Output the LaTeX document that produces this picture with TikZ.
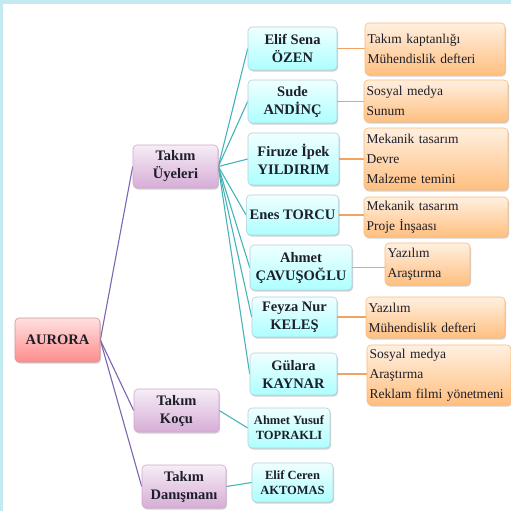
\documentclass[tikz,border=0pt]{standalone}
\usepackage{fontspec}
\setmainfont{Liberation Serif}
\usepackage{xcolor}
\definecolor{kenar}{HTML}{C3EAF0}
\definecolor{morcizgi}{HTML}{7E65B3}
\definecolor{turkuaz}{HTML}{45B4B8}
\definecolor{turuncu}{HTML}{F2A261}
\definecolor{yazi}{HTML}{1E1E2A}
\usetikzlibrary{positioning, shadows, backgrounds}

\begin{document}
\begin{tikzpicture}[x=1pt, y=-1pt,
    kutu/.style={rectangle, rounded corners=4pt, line width=0.6pt, text=yazi, align=center,
      drop shadow={shadow xshift=1pt, shadow yshift=-1.5pt, opacity=0.3, fill=black!60},
      font=\bfseries\fontsize{14.5}{18}\selectfont},
    kok/.style={kutu, draw=red!45!gray!60, top color=red!12, bottom color=red!45!white,
      minimum width=85pt, minimum height=44pt},
    grup/.style={kutu, draw=violet!35, top color=violet!7, bottom color=violet!32,
      minimum width=85pt, minimum height=43pt},
    kisi/.style={kutu, draw=cyan!40!gray!50, top color=cyan!6, bottom color=cyan!32,
      minimum width=89pt, minimum height=43pt},
    gorev/.style={kutu, draw=orange!55, top color=orange!12, bottom color=orange!50,
      align=left, inner xsep=2.5pt, text width=#1, minimum height=42pt,
      font={\fontsize{13.5}{20}\selectfont\hyphenpenalty=10000\relax}},
    ana/.style={morcizgi, line width=1.1pt},
    dal/.style={turkuaz, line width=1.1pt},
    is/.style={turuncu, line width=1.3pt}]

        \useasboundingbox (0,0) rectangle (511,511);

        % Kök
        \node[kok] (aurora) at (57.5,340) {AURORA};

        % Gruplar
        \node[grup] (uyeler) at (175.5,166.5) {Takım\\Üyeleri};
        \node[grup] (kocu) at (176.5,410.5) {Takım\\Koçu};
        \node[grup, minimum width=84pt] (danisman) at (184,486.5) {Takım\\Danışmanı};

        % Takım üyeleri
        \node[kisi] (p1) at (292.5,48.5) {Elif Sena\\ÖZEN};
        \node[kisi] (p2) at (292.5,101.5) {Sude\\ANDİNÇ};
        \node[kisi, minimum width=91pt, minimum height=52pt] (p3) at (293.5,159) {Firuze İpek\\YILDIRIM};
        \node[kisi, minimum height=40pt] (p4) at (292.5,215) {Enes TORCU};
        \node[kisi, minimum width=102pt, minimum height=45pt] (p5) at (301,267.5) {Ahmet\\ÇAVUŞOĞLU};
        \node[kisi, minimum width=85pt, minimum height=40pt] (p6) at (294.5,317) {Feyza Nur\\KELEŞ};
        \node[kisi, minimum width=87pt, minimum height=42pt] (p7) at (293.5,374) {Gülara\\KAYNAR};
        \node[kisi, minimum width=82pt, minimum height=40pt, font=\bfseries\fontsize{12.5}{15}\selectfont] (p8) at (289,428) {Ahmet Yusuf\\TOPRAKLI};
        \node[kisi, minimum width=81pt, minimum height=39pt, font=\bfseries\fontsize{12.5}{15}\selectfont] (p9) at (292.5,482.5) {Elif Ceren\\AKTOMAS};

        % Görevler
        \node[gorev=135pt, minimum height=52pt] (g1) at (435,49) {Takım kaptanlığı\\Mühendislik defteri};
        \node[gorev=139pt] (g2) at (436,101) {Sosyal medya\\Sunum};
        \node[gorev=139pt, minimum height=62pt] (g3) at (436,159) {Mekanik tasarım\\Devre\\Malzeme temini};
        \node[gorev=139pt, minimum height=40pt] (g4) at (436,217) {Mekanik tasarım\\Proje İnşaası};
        \node[gorev=80pt] (g5) at (427.5,264) {Yazılım\\Araştırma};
        \node[gorev=134pt, minimum height=41pt] (g6) at (435.5,317.5) {Yazılım\\Mühendislik defteri};
        \node[gorev=139pt, minimum height=60pt] (g7) at (439,375) {Sosyal medya\\Araştırma\\Reklam filmi yönetmeni};

        \begin{scope}[on background layer]
          % Çerçeve
          \fill[kenar] (0,0) rectangle (511,4);
          \fill[kenar] (0,0) rectangle (3,511);

          % Kökten gruplara
          \foreach \g in {uyeler, kocu, danisman}
            \draw[ana] (aurora.east) -- (\g.west);

          % Gruplardan kişilere
          \foreach \p in {p1, p2, p3, p4, p5, p6, p7}
            \draw[dal] (uyeler.east) -- (\p.west);
          \draw[dal] (kocu.east) -- (p8.west);
          \draw[dal] (danisman.east) -- (p9.west);

          % Kişilerden görevlere
          \foreach \i in {1,...,7}
            \draw[is] (p\i.east) -- (p\i.east -| g\i.west);
        \end{scope}

\end{tikzpicture}
\end{document}
